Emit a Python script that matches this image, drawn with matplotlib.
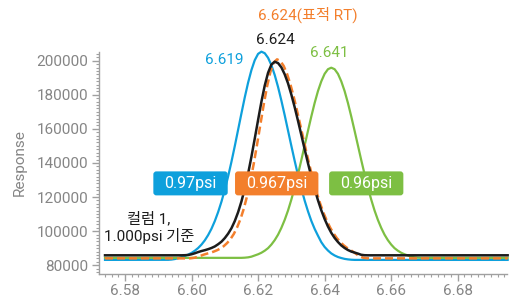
import matplotlib
matplotlib.use("Agg")
import matplotlib.pyplot as plt
from matplotlib.ticker import MultipleLocator
from matplotlib.patches import FancyBboxPatch
from matplotlib.transforms import IdentityTransform

plt.rcParams['font.family'] = ['Roboto', 'Noto Sans CJK KR', 'DejaVu Sans']

# 크로마토그램 값
blue_x = [6.574, 6.593, 6.594, 6.595, 6.596, 6.597, 6.598, 6.599, 6.600, 6.601, 6.602,
          6.603, 6.604, 6.605, 6.606, 6.607, 6.608, 6.609, 6.610, 6.611, 6.612,
          6.613, 6.614, 6.615, 6.616, 6.617, 6.618, 6.619, 6.620, 6.621, 6.622,
          6.623, 6.624, 6.625, 6.626, 6.627, 6.628, 6.629, 6.630, 6.631, 6.632,
          6.633, 6.634, 6.635, 6.636, 6.637, 6.638, 6.639, 6.640, 6.641, 6.642,
          6.643, 6.644, 6.645, 6.646, 6.647, 6.648, 6.649, 6.695]
blue_y = [83100, 83150, 83300, 83600, 84100, 84700, 85400, 86200, 87200, 88500, 90100,
          92100, 94600, 97700, 101400, 105900, 111200, 117300, 124300, 132100, 140700,
          149900, 159500, 169100, 178500, 187100, 194500, 200300, 204000, 205300, 204400,
          201700, 197400, 191600, 184600, 176600, 168000, 159000, 150000, 141200, 132800,
          125000, 117900, 111600, 106000, 101300, 97300, 93500, 90700, 88600, 86900,
          85700, 84800, 84200, 83700, 83400, 83200, 83100, 83100]

black_x = [6.574, 6.597, 6.598, 6.599, 6.600, 6.601, 6.602, 6.603, 6.604, 6.605, 6.606,
           6.607, 6.608, 6.609, 6.610, 6.611, 6.612, 6.613, 6.614, 6.615, 6.616,
           6.617, 6.618, 6.619, 6.620, 6.621, 6.622, 6.623, 6.624, 6.625, 6.626,
           6.627, 6.628, 6.629, 6.630, 6.631, 6.632, 6.633, 6.634, 6.635, 6.636,
           6.637, 6.638, 6.639, 6.640, 6.641, 6.642, 6.643, 6.644, 6.645, 6.646,
           6.647, 6.648, 6.649, 6.650, 6.651, 6.652, 6.653, 6.695]
black_y = [85800, 85800, 85850, 86000, 86400, 87000, 87700, 88300, 88800, 89400, 90100,
           91000, 92300, 93800, 95900, 98500, 101700, 105900, 111100, 117400, 124900,
           133700, 143600, 154300, 165200, 175900, 185400, 192900, 197700, 199400, 198600,
           196100, 192000, 186700, 180100, 172700, 164700, 156400, 148000, 139800, 132000,
           124700, 118100, 112200, 107100, 102700, 99000, 96000, 93600, 91600, 90100,
           88900, 88000, 87400, 86800, 86100, 85850, 85800, 85800]

orange_x = [6.574, 6.5987, 6.5997, 6.6007, 6.6017, 6.6027, 6.6037, 6.6047, 6.6057, 6.6067,
            6.6077, 6.6087, 6.6097, 6.6107, 6.6117, 6.6127, 6.6137, 6.6147, 6.6157, 6.6167,
            6.6177, 6.6187, 6.6197, 6.6207, 6.6217, 6.6227, 6.6237, 6.6247, 6.6257, 6.6267,
            6.6277, 6.6287, 6.6297, 6.6307, 6.6317, 6.6327, 6.6337, 6.6347, 6.6357, 6.6367,
            6.6377, 6.6387, 6.6397, 6.6407, 6.6417, 6.6427, 6.6437, 6.6447, 6.6457, 6.6467,
            6.6477, 6.6487, 6.6497, 6.6507, 6.6517, 6.6527, 6.6537, 6.695]
orange_y = [84000, 84000, 84050, 84300, 84800, 85500, 86200, 86800, 87300, 88000,
            88800, 89800, 91200, 93000, 95300, 98300, 102200, 107000, 113100, 120600,
            129400, 139600, 150900, 162700, 174300, 184900, 193400, 198900, 200800, 199800,
            196900, 192300, 186200, 178900, 170700, 162100, 153400, 144800, 136600, 129000,
            122100, 115900, 110500, 105900, 101900, 98600, 95800, 93600, 91700, 90200,
            89000, 87700, 86300, 85000, 84300, 84050, 84000, 84000]

green_x = [6.574, 6.615, 6.616, 6.617, 6.618, 6.619, 6.620, 6.621, 6.622, 6.623, 6.624,
           6.625, 6.626, 6.627, 6.628, 6.629, 6.630, 6.631, 6.632, 6.633, 6.634,
           6.635, 6.636, 6.637, 6.638, 6.639, 6.640, 6.641, 6.642, 6.643, 6.644,
           6.645, 6.646, 6.647, 6.648, 6.649, 6.650, 6.651, 6.652, 6.653, 6.654,
           6.655, 6.656, 6.657, 6.658, 6.659, 6.660, 6.661, 6.662, 6.663, 6.664,
           6.665, 6.666, 6.667, 6.668, 6.669, 6.695]
green_y = [84300, 84300, 84400, 84600, 85000, 85700, 86400, 87300, 88500, 90000, 92100,
           94700, 97900, 101900, 106600, 112100, 118500, 125600, 133400, 141700, 150300,
           158900, 167300, 175200, 182200, 187900, 192300, 195000, 195900, 195000, 192300,
           187900, 182200, 175200, 167300, 158900, 150300, 141700, 133400, 125600, 118500,
           112100, 106600, 101900, 97900, 94700, 92100, 90000, 88500, 87300, 86400,
           85700, 85000, 84600, 84400, 84300, 84300]

pressures = ['0.97psi', '0.967psi', '0.96psi']
peak_labels = ['6.619', '6.624(표적 RT)', '6.624', '6.641']

c_blue = '#0ea0dc'
c_orange = '#f37f2c'
c_green = '#7dbf43'
c_black = '#1c1c1c'
c_grey = '#858585'

fig = plt.figure(figsize=(5.12, 3.02), dpi=100)
ax = fig.add_axes([0.1934, 0.0937, 0.7968, 0.7341])

ax.plot(blue_x, blue_y, color=c_blue, lw=1.6, clip_on=False, zorder=2)
ax.plot(green_x, green_y, color=c_green, lw=1.6, clip_on=False, zorder=2)
ax.plot(orange_x, orange_y, color=c_orange, lw=1.8, dashes=(3.2, 1.6), clip_on=False, zorder=3)
ax.plot(black_x, black_y, color=c_black, lw=1.8, clip_on=False, zorder=4)

ax.set_xlim(6.5722, 6.6948)
ax.set_ylim(75000, 205100)

ax.xaxis.set_major_locator(MultipleLocator(0.02))
ax.xaxis.set_minor_locator(MultipleLocator(0.002))
ax.yaxis.set_major_locator(MultipleLocator(20000))
ax.yaxis.set_minor_locator(MultipleLocator(2000))
ax.xaxis.set_major_formatter(plt.FormatStrFormatter('%.2f'))

for s in ['top', 'right']:
    ax.spines[s].set_visible(False)
for s in ['left', 'bottom']:
    ax.spines[s].set_color('#a0a0a0')
    ax.spines[s].set_linewidth(1.0)
ax.tick_params(which='major', length=5, width=1, color='#a0a0a0', labelsize=11,
               labelcolor=c_grey, pad=2.5)
ax.tick_params(which='minor', length=2.5, width=0.8, color='#a0a0a0')

ax.set_ylabel('Response', fontsize=11, color=c_grey, labelpad=7)

# 피크 라벨
ax.text(6.6097, 200400, peak_labels[0], color=c_blue, fontsize=11, ha='center', va='center')
ax.text(6.6348, 226800, peak_labels[1], color=c_orange, fontsize=11, ha='center', va='center', clip_on=False)
ax.text(6.6253, 212000, peak_labels[2], color=c_black, fontsize=11, ha='center', va='center', clip_on=False)
ax.text(6.6415, 204300, peak_labels[3], color=c_green, fontsize=11, ha='center', va='center')

ax.text(6.5872, 102000, '컬럼 1,\n1.000psi 기준', color=c_black, fontsize=11,
        ha='center', va='center', linespacing=1.1)

# 압력 박스 (둥근 사각형)
box_texts = []
for xc, txt, col in zip([6.5997, 6.6256, 6.6525], pressures, [c_blue, c_orange, c_green]):
    t = ax.text(xc, 128000, txt, color='white', fontsize=11.5, ha='center', va='center', zorder=6)
    box_texts.append((t, xc, col))

fig.canvas.draw()
renderer = fig.canvas.get_renderer()
for t, xc, col in box_texts:
    bb = t.get_window_extent(renderer)
    cx, cy = ax.transData.transform((xc, 128000))
    w = bb.width + 22
    h = 24
    p = FancyBboxPatch((cx - w / 2, cy - h / 2), w, h,
                       boxstyle='round,pad=0,rounding_size=3',
                       fc=col, ec='none', transform=IdentityTransform(),
                       clip_on=False, zorder=5)
    ax.add_patch(p)

fig.savefig('out.png', dpi=100)
